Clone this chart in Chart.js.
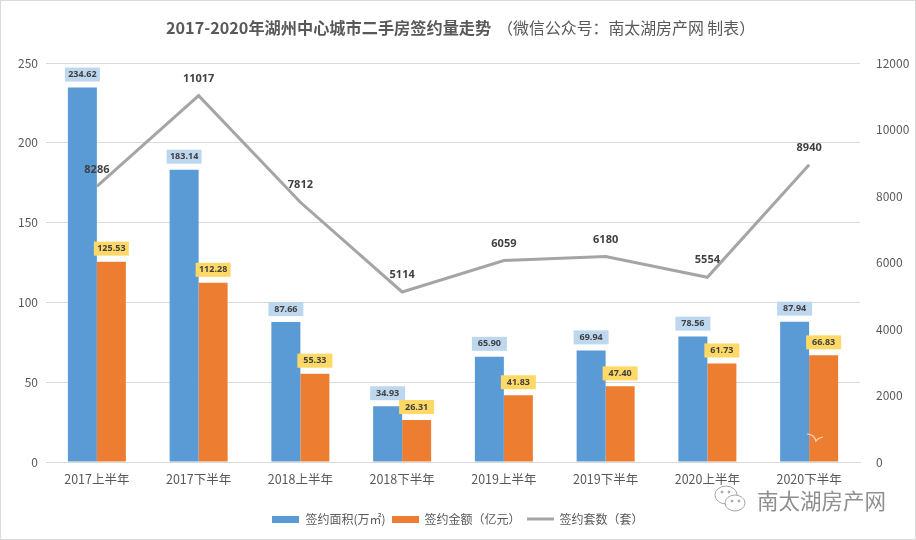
<!DOCTYPE html>
<html>
<head>
<meta charset="utf-8">
<script src="https://cdn.jsdelivr.net/npm/chart.js@4/dist/chart.umd.min.js"></script>
<style>
  body { margin: 0; background: #fff; overflow: hidden; }
  #box { position: relative; width: 916px; height: 540px; font-family: "Noto Sans CJK SC", sans-serif; }
  #frame { position: absolute; left: 0; top: 0; right: 0; bottom: 0; border: 1px solid #d9d9d9; pointer-events: none; }
  #title { position: absolute; left: 166px; top: 15px; white-space: nowrap; font-size: 16.2px; line-height: 24px; color: #595959; }
  #title b { margin-right: 6px; }
  #title span { font-size: 15.9px; }
  #mark { position: absolute; left: 757px; top: 485px; font-size: 21.5px; line-height: 30px; color: #8f8f8f; white-space: nowrap; }
  #wechat { position: absolute; left: 713px; top: 484px; }
  #bird { position: absolute; left: 805px; top: 432px; }
</style>
</head>
<body>
<div id="box">
  <canvas id="chart" width="916" height="540"></canvas>
  <div id="title"><b>2017-2020年湖州中心城市二手房签约量走势</b><span>（微信公众号：南太湖房产网 制表）</span></div>
  <svg id="bird" width="20" height="12"><path d="M2 2 Q9 2 11 9 Q13 6 18 5" fill="none" stroke="#f6d9c4" stroke-width="1.2"/></svg>
  <svg id="wechat" width="36" height="32" fill="#fff" stroke="#a6a6a6" stroke-width="1">
    <ellipse cx="13" cy="11" rx="11" ry="9"/>
    <ellipse cx="22" cy="19" rx="10" ry="8"/>
    <circle cx="9" cy="8" r="1" fill="#a6a6a6"/><circle cx="16" cy="8" r="1" fill="#a6a6a6"/>
    <circle cx="19" cy="17" r="1" fill="#a6a6a6"/><circle cx="26" cy="17" r="1" fill="#a6a6a6"/>
  </svg>
  <div id="mark">南太湖房产网</div>
  <div id="frame"></div>
</div>
<script>
const categories = ['2017上半年', '2017下半年', '2018上半年', '2018下半年', '2019上半年', '2019下半年', '2020上半年', '2020下半年'];
const areaValues = [234.62, 183.14, 87.66, 34.93, 65.90, 69.94, 78.56, 87.94];
const amountValues = [125.53, 112.28, 55.33, 26.31, 41.83, 47.40, 61.73, 66.83];
const unitValues = [8286, 11017, 7812, 5114, 6059, 6180, 5554, 8940];

const cjk = '"Noto Sans CJK SC", sans-serif';
const textColor = '#595959';
const gridColor = '#d9d9d9';

// 图例色块：前两个是矩形，第三个是线
function legendIcon(color, height) {
    const c = document.createElement('canvas');
    c.width = 27;
    c.height = 7;
    const g = c.getContext('2d');
    g.fillStyle = color;
    g.fillRect(0, (7 - height) / 2, 27, height);
    return c;
}

// 柱子和折线的数值标签
const valueLabels = {
    id: 'valueLabels',
    afterDatasetsDraw(chart) {
        const ctx = chart.ctx;
        ctx.save();
        ctx.textAlign = 'center';
        ctx.textBaseline = 'middle';
        chart.data.datasets.forEach((ds, i) => {
            chart.getDatasetMeta(i).data.forEach((el, j) => {
                if (ds.type === 'line') {
                    ctx.font = 'bold 11px "Open Sans", sans-serif';
                    ctx.fillStyle = '#404040';
                    ctx.fillText(ds.data[j], el.x, el.y - 17);
                } else {
                    ctx.fillStyle = ds.labelColor;
                    ctx.fillRect(el.x - 17.5, el.y - 20, 35, 14);
                    ctx.font = 'bold 9px "Open Sans", sans-serif';
                    ctx.fillStyle = '#404040';
                    ctx.fillText(ds.data[j].toFixed(2), el.x, el.y - 13);
                }
            });
        });
        ctx.restore();
    }
};

new Chart(document.getElementById('chart'), {
    data: {
        labels: categories,
        datasets: [
            { type: 'bar', label: '签约面积(万㎡)', data: areaValues, backgroundColor: '#5b9bd5', labelColor: '#bdd7ee', yAxisID: 'y', order: 2, categoryPercentage: 0.57, barPercentage: 1 },
            { type: 'bar', label: '签约金额（亿元）', data: amountValues, backgroundColor: '#ed7d31', labelColor: '#ffd966', yAxisID: 'y', order: 2, categoryPercentage: 0.57, barPercentage: 1 },
            { type: 'line', label: '签约套数（套）', data: unitValues, borderColor: '#a5a5a5', borderWidth: 3, pointRadius: 0, tension: 0, fill: false, yAxisID: 'y1', order: 1 }
        ]
    },
    options: {
        responsive: false,
        animation: false,
        layout: { padding: { top: 63, bottom: 5, left: 0, right: 0 } },
        plugins: {
            tooltip: { enabled: false },
            legend: {
                position: 'bottom',
                labels: {
                    usePointStyle: true,
                    pointStyleWidth: 27,
                    boxHeight: 7,
                    padding: 6,
                    color: textColor,
                    font: { family: cjk, size: 12 },
                    generateLabels(chart) {
                        const icons = [legendIcon('#5b9bd5', 7), legendIcon('#ed7d31', 7), legendIcon('#a5a5a5', 3)];
                        return chart.data.datasets.map((ds, i) => ({
                            text: ds.label,
                            fontColor: textColor,
                            datasetIndex: i,
                            pointStyle: icons[i],
                            lineWidth: 0
                        }));
                    }
                }
            }
        },
        scales: {
            x: {
                grid: { display: false },
                border: { color: gridColor },
                ticks: { color: textColor, font: { family: cjk, size: 12.5 }, padding: 2, maxRotation: 0 },
                afterFit(scale) { scale.height = 45; }
            },
            y: {
                position: 'left',
                min: 0,
                max: 250,
                grid: { color: gridColor, drawTicks: false },
                border: { display: false },
                ticks: { stepSize: 50, color: textColor, font: { family: cjk, size: 12 }, padding: 8 },
                afterFit(scale) { scale.width = 46; }
            },
            y1: {
                position: 'right',
                min: 0,
                max: 12000,
                grid: { display: false },
                border: { display: false },
                ticks: { stepSize: 2000, color: textColor, font: { family: cjk, size: 12 }, padding: 8, callback: v => String(v) },
                afterFit(scale) { scale.width = 56; }
            }
        }
    },
    plugins: [valueLabels]
});
</script>
</body>
</html>
